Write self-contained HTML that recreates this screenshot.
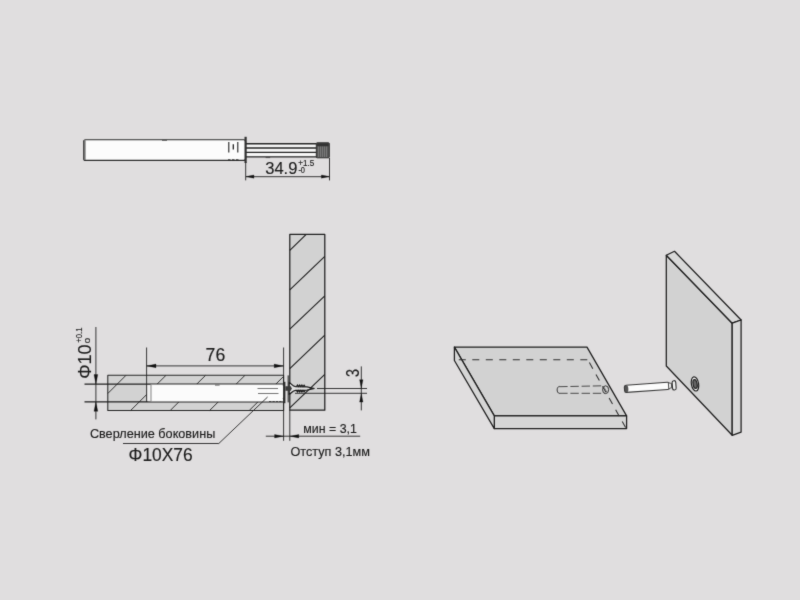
<!DOCTYPE html>
<html lang="ru">
<head>
<meta charset="utf-8">
<title>Схема установки</title>
<style>
html,body{margin:0;padding:0;background:#e0dedf;}
body{width:800px;height:600px;overflow:hidden;font-family:"Liberation Sans",sans-serif;}
svg{display:block;position:absolute;left:0;top:0;}
#top,#section,#iso{filter:url(#soft);}
text{font-family:"Liberation Sans",sans-serif;fill:#1c1c1c;stroke:#1c1c1c;stroke-width:0.15;}
.l{stroke:#202020;stroke-width:1.15;fill:none;}
.t{stroke:#242424;stroke-width:0.9;fill:none;}
.a{fill:#111;stroke:#111;stroke-width:0.3;}
.p{fill:#d2d2d2;stroke:#202020;stroke-width:1.25;stroke-linejoin:round;}
#iso .p{stroke:#1e1e1e;stroke-width:1.25;}
.d{stroke:#2e2e2e;stroke-width:1.05;fill:none;stroke-dasharray:6 3.5;}
</style>
</head>
<body>
<svg width="800" height="600" viewBox="0 0 800 600">
<defs><filter id="soft" x="0" y="0" width="800" height="600" filterUnits="userSpaceOnUse" color-interpolation-filters="sRGB"><feConvolveMatrix order="3" kernelMatrix="1 5 1 5 40 5 1 5 1" divisor="64" edgeMode="duplicate" preserveAlpha="false"/></filter></defs>
<rect width="800" height="600" fill="#e0dedf"/>

<!-- ===== top: device side view ===== -->
<g id="top">
  <rect x="83.6" y="139.8" width="162" height="20.6" rx="2" fill="#fcfcfc" stroke="#2a2a2a" stroke-width="1.1"/>
  <path d="M85.6 140.3h-0.6a1.6 1.6 0 0 0 -1.4 1.6v16.4a1.6 1.6 0 0 0 1.4 1.6h0.6z" fill="#707070"/>
  <rect x="162" y="139.6" width="5" height="1.2" fill="#555"/>
  <!-- marks -->
  <path class="l" d="M228.8 142V152.4 M237.8 142V152.4" style="stroke-width:1.1"/>
  <path class="l" d="M233.3 144.2V149.6" style="stroke-width:1.3"/>
  <path class="t" d="M228 159.8h2.5 M232 159.8h2.5 M236 159.8h2.5"/>
  <!-- rod -->
  <rect x="246" y="143.8" width="70.5" height="12.8" fill="#f6f6f6"/>
  <path class="l" d="M246 143.7H316.5 M246 148H316.5 M246 152.3H316.5 M246 156.9H316.5" style="stroke-width:1.35;stroke:#262626"/>
  <path class="t" d="M265.6 157.6h4.6" style="stroke:#444"/>
  <!-- flange -->
  <rect x="244.5" y="136.8" width="2.2" height="26.2" fill="#303030"/>
  <!-- knurl -->
  <rect x="316.3" y="142.8" width="13" height="15" rx="0.8" fill="#555" stroke="#2e2e2e" stroke-width="1"/>
  <rect x="317" y="143.2" width="11.6" height="3" fill="#333"/>
  <path d="M318.6 146.5V157 M320.6 146.5V157 M322.6 146.5V157 M324.6 146.5V157 M326.6 146.5V157" stroke="#858585" stroke-width="0.8"/>
  <!-- dimension -->
  <path class="t" d="M245.7 162V180.4 M329.5 158V180.4 M246 176.7H329.5"/>
  <path class="a" d="M245.9 176.6l8 -1.6v3.2z M329.4 176.6l-8 -1.6v3.2z"/>
  <text x="265.2" y="174.3" font-size="17.3" textLength="32.2" lengthAdjust="spacingAndGlyphs">34.9</text>
  <text x="298.2" y="166" font-size="8.6" textLength="16" lengthAdjust="spacingAndGlyphs">+1.5</text>
  <text x="298.4" y="172.6" font-size="8.2" textLength="6.6" lengthAdjust="spacingAndGlyphs">-0</text>
</g>

<!-- ===== bottom-left: section ===== -->
<g id="section">
  <!-- vertical panel -->
  <rect class="p" x="289.8" y="234.4" width="35" height="175.8"/>
  <path class="l" d="M289.8 250.4L306.2 234.4 M289.8 289.8L324.8 256.4 M289.8 329.2L324.8 295.8 M289.8 368.6L324.8 335.2 M289.8 407.8L324.8 374.4"/>
  <!-- horizontal panel -->
  <rect class="p" x="107.8" y="375.3" width="175.8" height="35.2" style="stroke-width:1.05;stroke:#262626"/>
  <path class="l" d="M107.8 393.5L126 375.3 M130.6 410.5L166 375.3 M170.2 410.5L205.6 375.3 M209.6 410.5L245 375.3 M249.2 410.5L283.6 376.4" style="stroke-width:0.95;stroke:#2a2a2a"/>
  <!-- hole -->
  <rect x="146.6" y="384.1" width="137" height="17.8" fill="#e6e5e5"/>
  <path class="l" d="M84.5 384.1H283.6 M84.5 401.9H283.6"/>
  <!-- device -->
  <rect x="150.6" y="384.6" width="133" height="16.8" fill="#fbfbfb"/>
  <rect x="148.2" y="385" width="2.6" height="16.2" fill="#f2f2f2"/>
  <path class="t" d="M151 384.6V401.6" style="stroke:#777"/>
  <path class="t" d="M257.5 388.5H278 M258 393.5H278.5" style="stroke:#666"/>
  <path class="t" d="M215 385.1h4.6" style="stroke:#555"/><path class="t" d="M269 401.5h14" style="stroke:#333;stroke-dasharray:2.4 1"/>
  <!-- flange / plate / screw -->
  <rect x="283.7" y="381.8" width="1.7" height="21.4" fill="#2e2e2e"/>
  <rect x="287.5" y="375.4" width="1.5" height="27" fill="#5a5a5a"/>
  <path d="M289.2 382.6C291.6 383.6 292.4 386.4 295.6 386.6L307 386.9L314.4 388.5L307 390.2L295.6 390.4C292.4 390.6 291.6 393.2 289.2 394.2Z" fill="#e2e2e2" stroke="#1a1a1a" stroke-width="1.2"/>
  <path d="M296.4 386.6l1.1-1.6l1.1 1.6l1.1-1.6l1.1 1.6l1.1-1.6l1.1 1.6l1.1-1.5l1.1 1.5 M296.4 390.4l1.1 1.6l1.1-1.6l1.1 1.6l1.1-1.6l1.1 1.6l1.1-1.6l1.1 1.5l1.1-1.5" stroke="#1a1a1a" stroke-width="1.1" fill="none"/>
  <path d="M285.4 386.2h5.4l1 2.3l-1 2.3h-5.4z" fill="#3a3a3a"/>
  <path d="M284.6 383.4c-1.6 0.4 -1.6 2 -1 2.6 M284.6 400.2c-1.6 -0.4 -1.6 -2 -1 -2.6" stroke="#333" stroke-width="0.8" fill="none"/>
  <!-- dim lines 3 -->
  <path class="t" d="M309.5 388.5H314.2 M317 388.5H367 M295 393.3H367 M361.3 366.4V410.4"/>
  <path class="a" d="M361.3 388.3l-1.7 -8.6h3.4z M361.3 393.5l-1.7 8.6h3.4z"/>
  <text transform="translate(358.5 377) rotate(-90) scale(0.8 1)" font-size="18">3</text>
  <!-- dim 76 -->
  <path class="t" d="M146.6 347.5V402 M283.6 347.5V440.8 M289.8 410V440.8 M146.6 365.9H283.6"/>
  <path class="a" d="M146.8 365.9l9.2 -1.8v3.6z M283.4 365.9l-9.2 -1.8v3.6z"/>
  <text x="205.6" y="360.9" font-size="18.4" textLength="19.7" lengthAdjust="spacingAndGlyphs">76</text>
  <!-- dim phi10 -->
  <path class="t" d="M95.9 327V419.4"/>
  <path class="a" d="M95.9 384l-1.9 -9.4h3.8z M95.9 401.9l-1.9 9.4h3.8z"/>
  <text transform="translate(91.2 378.8) rotate(-90)" font-size="17.8" textLength="34.4" lengthAdjust="spacingAndGlyphs">Φ10</text>
  <text transform="translate(82.1 342.6) rotate(-90)" font-size="8.8" textLength="15" lengthAdjust="spacingAndGlyphs">+0.1</text>
  <text transform="translate(89.9 343.2) rotate(-90)" font-size="6.8" textLength="5.4" lengthAdjust="spacingAndGlyphs">0</text>
  <!-- dim 3.1 -->
  <path class="t" d="M265.8 436.2H360.2"/>
  <path class="a" d="M283.4 436.2l-8.8 -1.7v3.4z M290 436.2l8.8 -1.7v3.4z"/>
  <text x="303.3" y="432.6" font-size="13" textLength="53.6" lengthAdjust="spacingAndGlyphs">мин = 3,1</text>
  <text x="290.5" y="455.7" font-size="13.2" textLength="79.5" lengthAdjust="spacingAndGlyphs">Отступ 3,1мм</text>
  <!-- leader -->
  <path class="t" d="M123 443.5H218.8L267.6 397"/>
  <text x="89.9" y="437.6" font-size="13.2" textLength="125.4" lengthAdjust="spacingAndGlyphs">Сверление боковины</text>
  <text x="128.5" y="460.9" font-size="17.8" textLength="64.2" lengthAdjust="spacingAndGlyphs">Φ10X76</text>
</g>

<!-- ===== right: isometric ===== -->
<g id="iso">
  <!-- flat panel -->
  <path class="p" d="M454.4 347.1H587L626.6 415.9H494.3Z"/>
  <path class="p" d="M494.3 415.9H626.6V428.6H494.3Z" style="fill:#d6d6d6"/>
  <path class="p" d="M454.4 347.1L494.3 415.9V428.6L454.4 360.5Z" style="fill:#d6d6d6"/>
  <path class="d" d="M458.8 359.8H588.4" style="stroke-dasharray:7 6.5"/>
  <path class="d" d="M589.4 362.6L625.6 427.6" style="stroke-dasharray:7 6.5"/>
  <!-- hidden hole -->
  <path class="d" d="M559.2 386.7L603 385.8 M559.2 393.3H604.6" style="stroke-dasharray:8.4 2.8;stroke:#4a4a4a;stroke-width:1"/>
  <path class="t" d="M559.4 386.4c-3 0.4 -3 6.6 0 7"/>
  <ellipse cx="605.6" cy="389.7" rx="3" ry="3.9" class="t"/>
  <path class="t" d="M603.6 386.6L607 392.4" style="stroke:#666"/>
  <!-- vertical panel -->
  <path class="p" d="M666.3 255.3L732.2 323.2V435.3L666.3 366Z"/>
  <path class="p" d="M666.3 255.3L674.5 251.3L741.1 320L732.2 323.2Z" style="fill:#d9d9d9"/>
  <path class="p" d="M732.2 323.2L741.1 320V432.2L732.2 435.3Z" style="fill:#d9d9d9"/>
  <!-- hole in panel -->
  <ellipse cx="695" cy="383.9" rx="3.6" ry="7.2" transform="rotate(-10 695 383.9)" fill="#f2f2f2" stroke="#222" stroke-width="1.2"/>
  <ellipse cx="695.1" cy="384" rx="2" ry="4.5" transform="rotate(-10 695.1 384)" fill="#666" stroke="#262626" stroke-width="1.3"/>
  <!-- peg -->
  <g transform="rotate(-4.1 650 387)">
    <rect x="624.4" y="383.5" width="45" height="7.2" rx="1.8" fill="#fcfcfc" stroke="#3a3a3a" stroke-width="1.1"/>
    <path d="M626.2 383.5h1.4a1.6 3.6 0 0 0 0 7.2h-1.4a1.9 3.6 0 0 1 0 -7.2z" fill="#3a3a3a"/><ellipse cx="626.6" cy="387.1" rx="1.7" ry="3.3" fill="#555"/>
    <path d="M668.6 383.6c1 1 1.6 1.2 3 1.2v4.6c-1.4 0 -2 0.2 -3 1.2z" fill="#ededed" stroke="#444" stroke-width="0.9"/>
    <rect x="672.4" y="382.4" width="3.6" height="9.4" rx="1.8" fill="#f4f4f4" stroke="#2e2e2e" stroke-width="1.1"/>
  </g>
</g>
</svg>
</body>
</html>
